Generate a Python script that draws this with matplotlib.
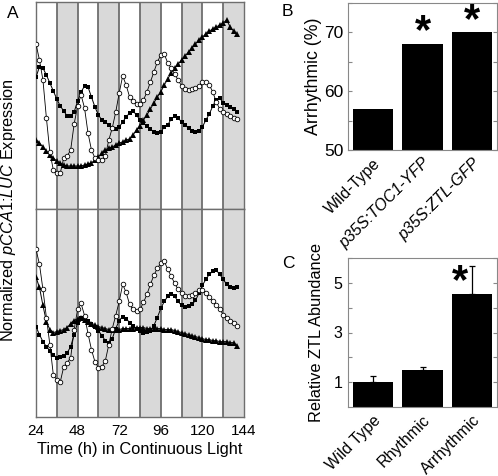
import matplotlib
matplotlib.use("Agg")
import matplotlib.pyplot as plt
import numpy as np

plt.rcParams['font.family'] = ['Liberation Sans', 'DejaVu Sans']
plt.rcParams['mathtext.fontset'] = 'custom'
plt.rcParams['mathtext.rm'] = 'Liberation Sans'
plt.rcParams['mathtext.it'] = 'Liberation Sans:italic'

# ---------------- Panel A data (arbitrary normalized units) ----------------
time_h = list(range(24, 141, 2))

top_open = [165, 149, 129, 91, 57, 39, 36, 36, 51, 53, 59, 85, 103, 114, 101, 76, 59, 51, 49, 49,
            53, 69, 81, 97, 116, 133, 124, 112, 108, 105, 105, 109, 117, 127, 137, 147, 154, 155, 146, 141,
            135, 129, 123, 120, 119, 120, 121, 123, 127, 127, 124, 117, 107, 100, 97, 95, 93, 91, 90]
top_square = [132, 142, 141, 134, 126, 118, 110, 103, 98, 93, 93, 97, 108, 117, 123, 122, 112, 102, 94, 89,
              87, 84, 81, 80, 82, 87, 92, 96, 98, 94, 89, 86, 83, 80, 77, 76, 77, 82, 84, 90,
              93, 91, 87, 84, 81, 78, 77, 78, 82, 89, 95, 103, 109, 111, 106, 104, 102, 100, 97]
top_triangle = [69, 66, 62, 58, 54, 51, 48, 46, 44, 43, 43, 43, 43, 43, 44, 45, 46, 49, 52, 56,
                59, 61, 62, 64, 66, 67, 69, 70, 74, 79, 83, 89, 94, 100, 106, 112, 117, 124, 130, 136,
                141, 145, 149, 153, 157, 161, 165, 169, 172, 175, 178, 180, 182, 184, 186, 189, 182, 178, 175]

bot_open = [167, 152, 127, 99, 72, 42, 37, 35, 50, 54, 59, 87, 107, 113, 101, 83, 67, 55, 49, 50,
            56, 72, 88, 101, 115, 132, 124, 112, 107, 105, 107, 114, 122, 132, 141, 148, 153, 155, 147, 140,
            133, 127, 123, 120, 120, 121, 123, 126, 126, 123, 119, 115, 111, 107, 102, 99, 96, 94, 91]
bot_square = [90, 82, 75, 70, 66, 62, 59, 60, 61, 64, 70, 82, 94, 99, 99, 96, 93, 90, 86, 81,
              76, 74, 78, 88, 96, 100, 98, 94, 91, 88, 86, 84, 85, 86, 91, 99, 108, 115, 120, 122,
              120, 115, 111, 109, 110, 112, 116, 123, 131, 137, 142, 145, 146, 142, 137, 132, 129, 128, 129]
bot_triangle = [139, 129, 111, 95, 87, 84, 85, 86, 87, 89, 93, 96, 98, 99, 97, 95, 93, 92, 90, 89,
                88, 87, 87, 87, 87, 88, 88, 88, 88, 89, 89, 89, 88, 88, 88, 88, 88, 87, 87, 87,
                86, 85, 84, 83, 82, 81, 80, 79, 78, 77, 77, 76, 76, 75, 75, 75, 74, 74, 71]

dark_start = [36, 60, 84, 108, 132]
dark_len = 12
x_ticks_A = [24, 48, 72, 96, 120, 144]

# ---------------- Panel B data ----------------
b_cats = ['Wild-Type', 'p35S:TOC1-YFP', 'p35S:ZTL-GFP']
b_vals = [57, 68, 70]
b_sig = [False, True, True]

# ---------------- Panel C data ----------------
c_cats = ['Wild Type', 'Rhythmic', 'Arrhythmic']
c_vals = [1.0, 1.47, 4.56]
c_err = [0.25, 0.15, 1.1]
c_sig = [False, False, True]

W, H = 498, 476
fig = plt.figure(figsize=(W / 100, H / 100), dpi=100)

def frac(x0, y0, x1, y1):
    return [x0 / W, 1 - y1 / H, (x1 - x0) / W, (y1 - y0) / H]

grid_col = '#6e6e6e'
band_col = '#d9d9d9'

axA1 = fig.add_axes(frac(36, 2, 244, 209))
axA2 = fig.add_axes(frac(36, 209, 244, 417))

for ax, op, sq, tr in [(axA1, top_open, top_square, top_triangle),
                       (axA2, bot_open, bot_square, bot_triangle)]:
    for s in dark_start:
        ax.axvspan(s, s + dark_len, color=band_col, lw=0, zorder=0)
    for v in range(36, 144, 12):
        ax.axvline(v, color=grid_col, lw=1.3, zorder=1)
    ax.plot(time_h, tr, '-^', color='black', lw=0.7, ms=3.8, mew=0, zorder=3)
    ax.plot(time_h, sq, '-s', color='black', lw=0.7, ms=3.4, mew=0, zorder=4)
    ax.plot(time_h, op, '-o', color='black', lw=0.6, ms=3.3, mew=0.6, mfc='white', zorder=5)
    ax.set_xlim(24, 144)
    ax.set_ylim(0, 207)
    ax.set_yticks([])
    for sp in ax.spines.values():
        sp.set_color(grid_col)
        sp.set_linewidth(1.0)

axA1.set_xticks([])
axA2.set_xticks(x_ticks_A)
axA2.tick_params(axis='x', length=0, pad=5, labelsize=11)
axA2.set_xlabel('Time (h) in Continuous Light', fontsize=11.8, labelpad=3)
fig.text(8.5 / W, 1 - 210 / H, r'Normalized $\mathit{pCCA1}$:$\mathit{LUC}$ Expression', rotation=90,
         ha='center', va='center', fontsize=11.8)
fig.text(13 / W, 1 - 14 / H, 'A', ha='center', va='center', fontsize=12.5)

# ---------------- Panel B ----------------
axB = fig.add_axes(frac(348, 3, 497, 150))
xb = np.arange(len(b_cats))
axB.bar(xb, b_vals, width=0.81, color='black', bottom=0)
axB.set_xlim(-0.5, 2.5)
axB.set_ylim(50, 75)
axB.set_yticks([50, 55, 60, 65, 70, 75])
axB.set_yticklabels(['50', '', '60', '', '70', ''])
axB.tick_params(axis='y', direction='in', length=3, right=True, labelsize=12.5, color='#888888', pad=3)
axB.set_xticks(xb)
axB.set_xticklabels(b_cats, rotation=45, ha='right', rotation_mode='anchor', fontsize=11.5)
for lab in axB.get_xticklabels()[1:]:
    lab.set_fontstyle('italic')
axB.tick_params(axis='x', length=0, pad=4)
axB.set_ylabel('Arrhythmic (%)', fontsize=12.8, labelpad=2)
for sp in axB.spines.values():
    sp.set_color('#888888')
for i, (v, s) in enumerate(zip(b_vals, b_sig)):
    if s:
        axB.annotate('*', (i, v), xytext=(0, -6), textcoords='offset points',
                     ha='center', va='bottom', fontsize=30, fontweight='bold')
fig.text(287 / W, 1 - 11 / H, 'B', ha='center', va='center', fontsize=12.5)

# ---------------- Panel C ----------------
axC = fig.add_axes(frac(348, 258, 497, 407))
xc = np.arange(len(c_cats))
axC.bar(xc, c_vals, width=0.81, color='black')
axC.errorbar(xc, c_vals, yerr=[[0] * len(c_err), c_err], fmt='none', ecolor='black',
             elinewidth=0.9, capsize=2, capthick=0.9)
axC.set_xlim(-0.5, 2.5)
axC.set_ylim(0, 6)
axC.set_yticks([1, 2, 3, 4, 5, 6])
axC.set_yticklabels(['1', '', '3', '', '5', ''])
axC.tick_params(axis='y', direction='in', length=3, right=True, labelsize=11.5, color='#888888', pad=4)
axC.set_xticks(xc)
axC.set_xticklabels(c_cats, rotation=45, ha='right', rotation_mode='anchor', fontsize=11.5)
axC.tick_params(axis='x', length=0, pad=4)
axC.set_ylabel('Relative ZTL Abundance', fontsize=11.8, labelpad=7)
for sp in axC.spines.values():
    sp.set_color('#888888')
for i, (v, s) in enumerate(zip(c_vals, c_sig)):
    if s:
        axC.annotate('*', (i, v), xytext=(-9, -6), textcoords='offset points',
                     ha='center', va='bottom', fontsize=30, fontweight='bold')
fig.text(288 / W, 1 - 264 / H, 'C', ha='center', va='center', fontsize=12.5)

fig.savefig('out.png', dpi=100)
